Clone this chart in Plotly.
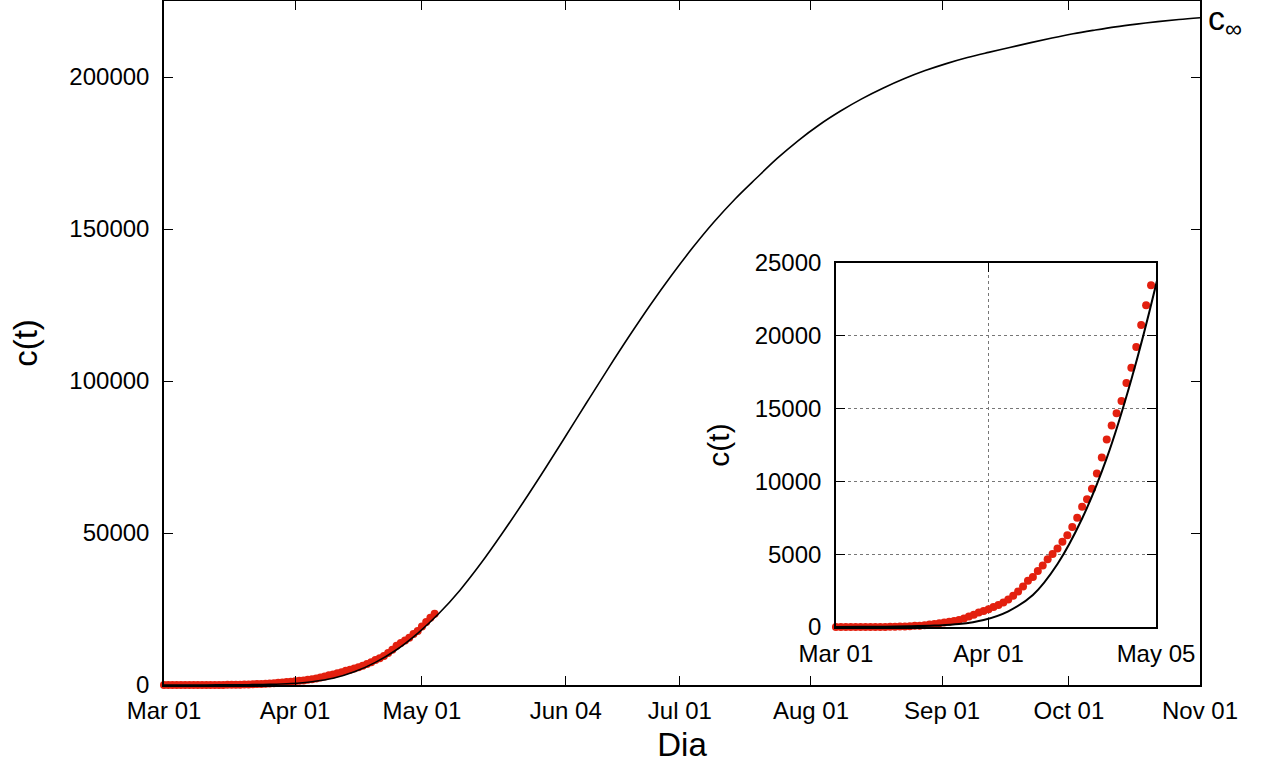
import pandas as pd
import plotly.graph_objects as go

START = pd.Timestamp("2020-03-01")

# Daily cumulative confirmed cases, Mar 01 .. May 04
case_counts = [
    4, 5, 5, 5, 5, 5, 6, 7, 7, 7,
    8, 12, 15, 26, 41, 53, 82, 93, 118, 164,
    203, 251, 316, 367, 405, 475, 585, 717, 848, 993,
    1094,
    1215, 1378, 1510, 1688, 1890, 2143, 2439, 2785, 3181, 3441,
    3844, 4219, 4661, 5014, 5399, 5847, 6297, 6875, 7497, 8261,
    8772, 9501, 10544, 11633, 12872, 13842, 14677, 15529, 16752, 17799,
    19224, 20739, 22088, 23471,
]

# Fitted model curve c(t), sampled every 5 days from Mar 01 to Nov 01
model_days = list(range(0, 246, 5))
model_vals = [
    3, 10, 22, 45, 95, 200, 480, 1080, 2200, 4330,
    7450, 11600, 17000, 23500, 31200, 40100, 49900, 60200, 70900, 81900,
    93000, 104000, 114700, 125000, 134700, 143800, 152200, 159800, 166600, 173200,
    179100, 184300, 188800, 192800, 196300, 199400, 202100, 204400, 206400, 208100,
    209700, 211300, 212800, 214200, 215400, 216500, 217400, 218200, 218900, 219500,
]

# Axis ticks
main_xticks = ["2020-03-01", "2020-04-01", "2020-05-01", "2020-06-04", "2020-07-01",
               "2020-08-01", "2020-09-01", "2020-10-01", "2020-11-01"]
main_xticktext = ["Mar 01", "Apr 01", "May 01", "Jun 04", "Jul 01",
                  "Aug 01", "Sep 01", "Oct 01", "Nov 01"]
main_yticks = [0, 50000, 100000, 150000, 200000]
inset_xticks = ["2020-03-01", "2020-04-01", "2020-05-05"]
inset_xticktext = ["Mar 01", "Apr 01", "May 05"]
inset_yticks = [0, 5000, 10000, 15000, 20000, 25000]

case_dates = [START + pd.Timedelta(days=i) for i in range(len(case_counts))]
model_dates = [START + pd.Timedelta(days=d) for d in model_days]

RED = "#e3200f"
FONT = "Liberation Sans, Arial, sans-serif"

fig = go.Figure()

# main panel
fig.add_trace(go.Scatter(x=case_dates, y=case_counts, mode="markers",
                         marker=dict(color=RED, size=8), cliponaxis=False,
                         xaxis="x", yaxis="y", showlegend=False))
fig.add_trace(go.Scatter(x=model_dates, y=model_vals, mode="lines",
                         line=dict(color="black", width=1.6, shape="spline"),
                         xaxis="x", yaxis="y", showlegend=False))

# inset panel
fig.add_trace(go.Scatter(x=case_dates, y=case_counts, mode="markers",
                         marker=dict(color=RED, size=8), cliponaxis=False,
                         xaxis="x2", yaxis="y2", showlegend=False))
fig.add_trace(go.Scatter(x=model_dates, y=model_vals, mode="lines",
                         line=dict(color="black", width=2, shape="spline"),
                         xaxis="x2", yaxis="y2", showlegend=False))

axis_common = dict(showline=True, linecolor="black", linewidth=1.5,
                   ticks="inside", ticklen=9, tickcolor="black", tickwidth=1,
                   mirror="allticks", zeroline=False, automargin=False,
                   tickfont=dict(family=FONT, size=24, color="black"))

fig.update_layout(
    width=1261, height=765,
    margin=dict(l=164, r=61, t=1, b=80),
    paper_bgcolor="white", plot_bgcolor="white",
    font=dict(family=FONT, color="black"),
    xaxis=dict(domain=[0, 1], anchor="y",
               range=["2020-03-01", "2020-11-01"],
               tickvals=main_xticks, ticktext=main_xticktext,
               showgrid=False, ticklabelstandoff=3,
               title=dict(text="Dia", font=dict(size=33), standoff=10),
               **axis_common),
    yaxis=dict(domain=[0, 1], anchor="x", range=[0, 225000],
               tickvals=main_yticks, ticktext=[str(v) for v in main_yticks],
               showgrid=False, ticklabelstandoff=8,
               title=dict(text="c(t)", font=dict(size=33), standoff=22),
               **axis_common),
    xaxis2=dict(domain=[0.6486, 0.9575], anchor="y2",
                range=["2020-03-01", "2020-05-05"],
                tickvals=inset_xticks, ticktext=inset_xticktext,
                showgrid=True, gridcolor="#777777", griddash="dot", gridwidth=1,
                ticklabelstandoff=4,
                **axis_common),
    yaxis2=dict(domain=[0.0848, 0.617], anchor="x2", range=[0, 25000],
                tickvals=inset_yticks, ticktext=[str(v) for v in inset_yticks],
                showgrid=True, gridcolor="#777777", griddash="dot", gridwidth=1,
                ticklabelstandoff=8,
                title=dict(text="c(t)", font=dict(size=30), standoff=16),
                **axis_common),
    annotations=[dict(x=1.0, xref="paper", y=model_vals[-1], yref="y",
                      text="c<sub>∞</sub>", showarrow=False, xanchor="left",
                      yanchor="middle", xshift=6, yshift=-3,
                      font=dict(family=FONT, size=34, color="black"))],
)

fig.write_html("out.html")
